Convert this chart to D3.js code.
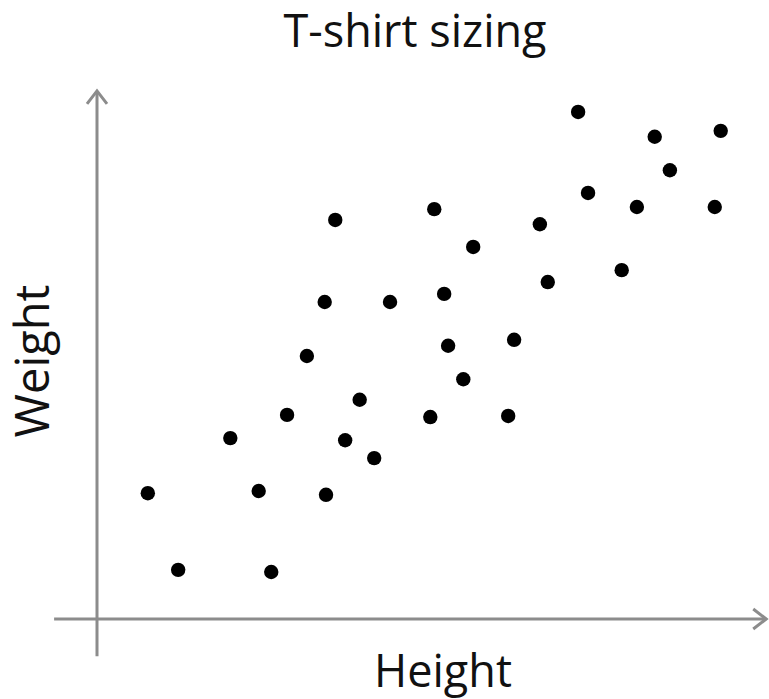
<!DOCTYPE html>
<html><head><meta charset="utf-8">
<script src="https://cdn.jsdelivr.net/npm/d3@7"></script>
<style>html,body{margin:0;padding:0;background:#fff;}svg{display:block;}</style>
</head><body>
<script>
const title = "T-shirt sizing";
const xLabel = "Height";
const yLabel = "Weight";
const heights = [7.7,12.3,26.4,24.5,20.2,28.8,34.7,37.6,42.0,39.8,31.8,34.5,36.1,44.4,51.1,52.6,57.0,53.2,55.5,50.5,62.3,63.2,67.1,68.3,72.9,74.4,79.5,81.8,84.5,86.8,94.5,93.6];
const weights = [23.3,9.1,8.7,23.7,33.5,37.8,23.0,33.1,29.8,40.6,48.7,58.7,73.9,58.7,75.9,60.2,68.9,50.6,44.4,37.4,37.6,51.7,73.1,62.4,93.9,78.9,64.6,76.3,89.3,83.1,90.4,76.3];

const W = 769, H = 699;
const svg = d3.select("body").append("svg").attr("width", W).attr("height", H);
const x = d3.scaleLinear().domain([0, 100]).range([97, 757]);
const y = d3.scaleLinear().domain([0, 100]).range([619, 79]);
const axisColor = "#8c8c8c";
const font = "'Open Sans', sans-serif";

// axes
const g = svg.append("g").attr("fill", "none").attr("stroke", axisColor).attr("stroke-width", 3);
g.append("line").attr("x1", x(0)).attr("x2", x(0)).attr("y1", y(-6.9)).attr("y2", y(97.8));
g.append("line").attr("x1", x(-6.5)).attr("x2", x(101.4)).attr("y1", y(0)).attr("y2", y(0));
// arrowheads
const ty = y(97.8), tx = x(0);
g.append("path").attr("d", `M${tx-10},${ty+13}L${tx},${ty}L${tx+10},${ty+13}`).attr("stroke-linejoin", "miter");
const ax = x(101.4), ay = y(0);
g.append("path").attr("d", `M${ax-13},${ay-10}L${ax},${ay}L${ax-13},${ay+10}`).attr("stroke-linejoin", "miter");

// points
svg.append("g").selectAll("circle").data(heights.map((h, i) => [h, weights[i]]))
  .join("circle").attr("cx", d => x(d[0])).attr("cy", d => y(d[1])).attr("r", 7.2).attr("fill", "#000");

// texts
svg.append("text").attr("x", 415).attr("y", 47).attr("text-anchor", "middle")
  .attr("font-family", font).attr("font-size", 45).attr("fill", "#111").text(title);
svg.append("text").attr("x", 443).attr("y", 687).attr("text-anchor", "middle")
  .attr("font-family", font).attr("font-size", 45).attr("fill", "#111").text(xLabel);
svg.append("text").attr("transform", "translate(49,361) rotate(-90)").attr("text-anchor", "middle")
  .attr("font-family", font).attr("font-size", 47).attr("fill", "#111").text(yLabel);
</script>
</body></html>
